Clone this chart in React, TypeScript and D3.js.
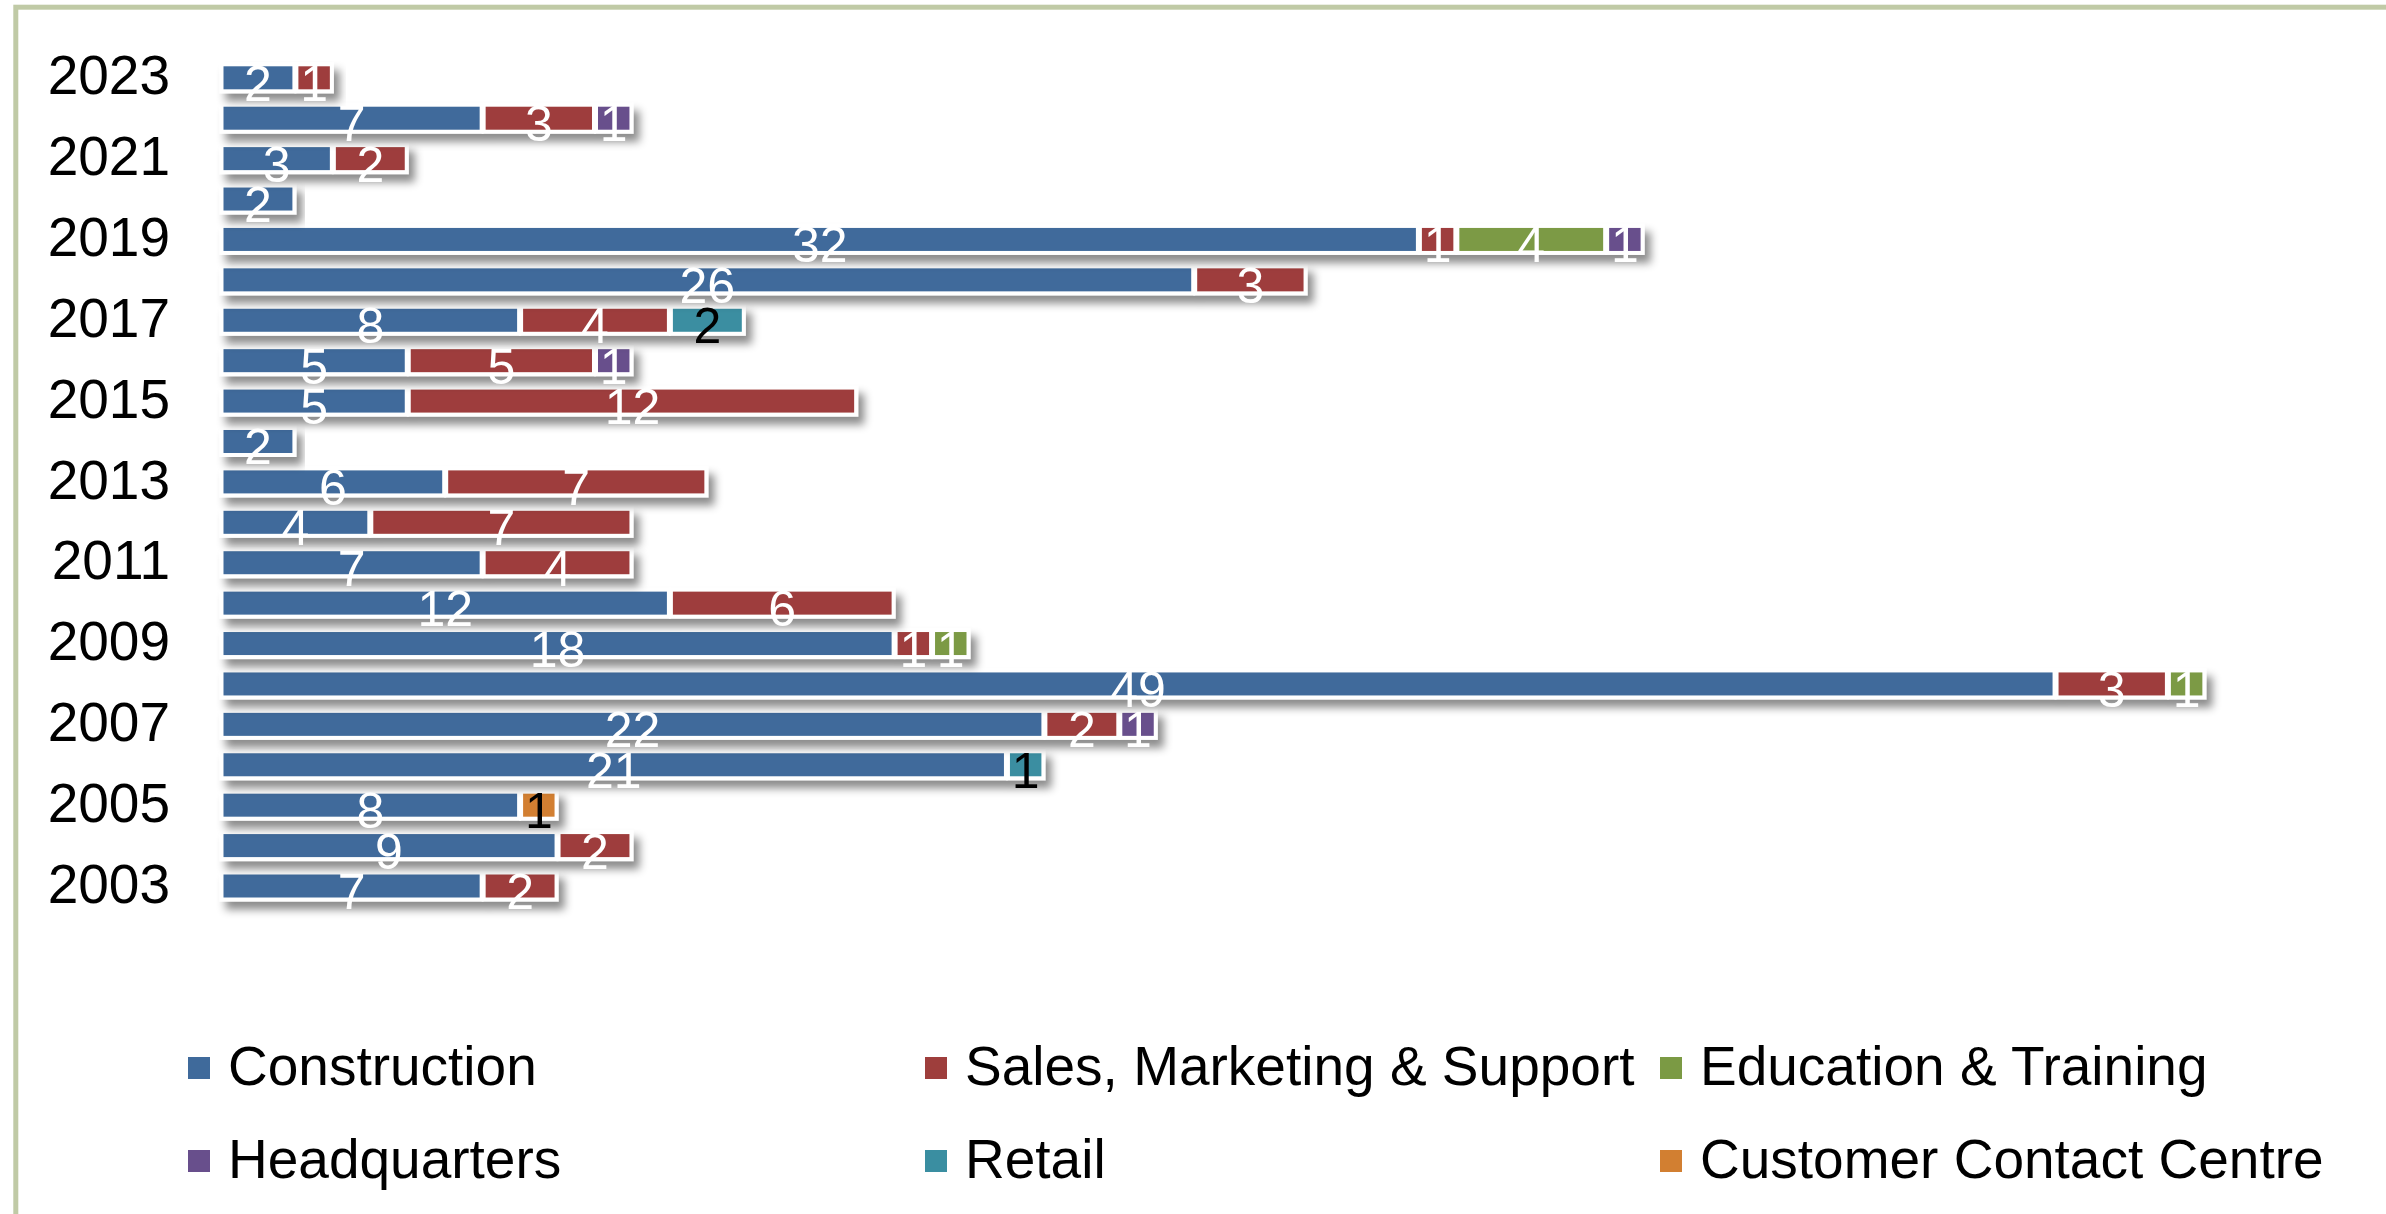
import React from "react";
import * as d3 from "d3";

const years = [2003, 2004, 2005, 2006, 2007, 2008, 2009, 2010, 2011, 2012, 2013, 2014, 2015, 2016, 2017, 2018, 2019, 2020, 2021, 2022, 2023];
const construction = [7, 9, 8, 21, 22, 49, 18, 12, 7, 4, 6, 2, 5, 5, 8, 26, 32, 2, 3, 7, 2];
const sales = [2, 2, 0, 0, 2, 3, 1, 6, 4, 7, 7, 0, 12, 5, 4, 3, 1, 0, 2, 3, 1];
const education = [0, 0, 0, 0, 0, 1, 1, 0, 0, 0, 0, 0, 0, 0, 0, 0, 4, 0, 0, 0, 0];
const headquarters = [0, 0, 0, 0, 1, 0, 0, 0, 0, 0, 0, 0, 0, 1, 0, 0, 1, 0, 0, 1, 0];
const retail = [0, 0, 0, 1, 0, 0, 0, 0, 0, 0, 0, 0, 0, 0, 2, 0, 0, 0, 0, 0, 0];
const customerContact = [0, 0, 1, 0, 0, 0, 0, 0, 0, 0, 0, 0, 0, 0, 0, 0, 0, 0, 0, 0, 0];

const seriesNames = ["Construction", "Sales, Marketing & Support", "Education & Training", "Headquarters", "Retail", "Customer Contact Centre"];
const seriesKeys = ["construction", "sales", "education", "headquarters", "retail", "customerContact"];
const seriesColors = ["#3f6a9b", "#9e3e3c", "#7b9a44", "#684f8c", "#3a8ea1", "#d27f31"];
const labelColors = ["#ffffff", "#ffffff", "#ffffff", "#ffffff", "#000000", "#000000"];
const yearLabels = [2003, 2005, 2007, 2009, 2011, 2013, 2015, 2017, 2019, 2021, 2023];

const W = 2386;
const H = 1214;
const FONT = "'Liberation Sans', Arial, sans-serif";

export default function App() {
  const rows = years.map((yr, i) => ({
    year: yr,
    construction: construction[i],
    sales: sales[i],
    education: education[i],
    headquarters: headquarters[i],
    retail: retail[i],
    customerContact: customerContact[i],
  }));
  const stack = d3.stack<any>().keys(seriesKeys);
  const layers = stack(rows);

  const x = d3.scaleLinear().domain([0, 55]).range([220.5, 220.5 + 55 * 37.45]);
  const y = d3
    .scalePoint<number>()
    .domain([...years].reverse())
    .range([77.8, 886]);

  const fillHalf = 11.5;
  const outerHalf = 15.5;
  const gap = 3;

  const legendCols = [228, 965, 1700];
  const legendRows = [1085, 1178];

  return (
    <svg
      width={W}
      height={H}
      style={{ position: "absolute", left: 0, top: 0, background: "#fff" }}
      fontFamily={FONT}
    >
      <defs>
        <filter id="shadow" x="-5%" y="-100%" width="115%" height="300%">
          <feDropShadow dx="6" dy="8" stdDeviation="4" floodColor="#000" floodOpacity="0.45" />
        </filter>
      </defs>
      <rect x={0} y={0} width={W} height={H} fill="#fff" />
      <rect x={15.8} y={7.2} width={W + 100} height={H + 100} fill="none" stroke="#c0caa6" strokeWidth={5} />

      {yearLabels.map((yr) => (
        <text key={yr} x={170} y={(y(yr) as number) + 16.6} textAnchor="end" fontSize={55} fill="#000">
          {yr}
        </text>
      ))}

      {rows.map((r, i) => {
        const cy = y(r.year) as number;
        const segs = layers
          .map((layer, si) => ({ si, d0: layer[i][0], d1: layer[i][1] }))
          .filter((s) => s.d1 - s.d0 > 0);
        return (
          <g key={r.year} filter="url(#shadow)">
            {segs.map((s) => (
              <rect
                key={"o" + s.si}
                x={x(s.d0) - 1}
                y={cy - outerHalf}
                width={x(s.d1) - x(s.d0) + 2}
                height={outerHalf * 2}
                fill="#fff"
              />
            ))}
            {segs.map((s) => (
              <rect
                key={"f" + s.si}
                x={x(s.d0) + gap}
                y={cy - fillHalf}
                width={x(s.d1) - x(s.d0) - gap * 2}
                height={fillHalf * 2}
                fill={seriesColors[s.si]}
              />
            ))}
          </g>
        );
      })}

      {rows.map((r, i) => {
        const cy = y(r.year) as number;
        return layers.map((layer, si) => {
          const d0 = layer[i][0];
          const d1 = layer[i][1];
          if (d1 - d0 <= 0) return null;
          return (
            <text
              key={r.year + "-" + si}
              x={(x(d0) + x(d1)) / 2}
              y={cy + 23}
              textAnchor="middle"
              fontSize={50}
              fill={labelColors[si]}
            >
              {d1 - d0}
            </text>
          );
        });
      })}

      {seriesNames.map((name, si) => {
        const col = si < 3 ? si : si - 3;
        const row = si < 3 ? 0 : 1;
        const tx = legendCols[col];
        const ty = legendRows[row];
        return (
          <g key={name}>
            <rect x={tx - 40} y={ty - 28} width={22} height={22} fill={seriesColors[si]} />
            <text x={tx} y={ty} fontSize={55} fill="#000">
              {name}
            </text>
          </g>
        );
      })}
    </svg>
  );
}
